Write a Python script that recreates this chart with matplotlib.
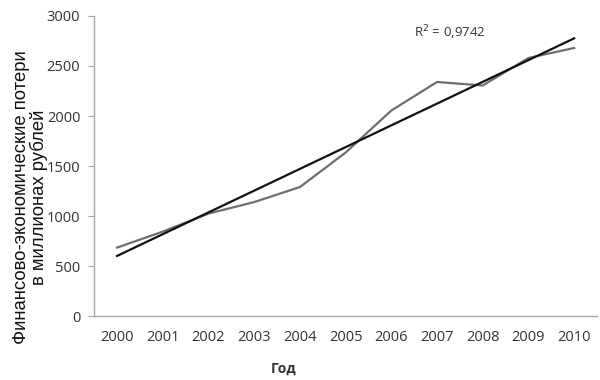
import numpy as np
import matplotlib.pyplot as plt

# data
years = [2000, 2001, 2002, 2003, 2004, 2005, 2006, 2007, 2008, 2009, 2010]
losses = [685, 845, 1025, 1140, 1290, 1635, 2055, 2340, 2305, 2580, 2680]
r2_label = 'R$^2$ = 0,9742'

x = np.arange(len(years))
coef = np.polyfit(x, losses, 1)
trend = np.polyval(coef, x)

fig = plt.figure(figsize=(6, 3.8), dpi=100)
ax = fig.add_axes([0.157, 0.168, 0.838, 0.79])

ax.plot(x, losses, color='#6e6e6e', lw=1.6)
ax.plot(x, trend, color='#111111', lw=1.6)

ax.set_xlim(-0.5, len(years) - 0.5)
ax.set_ylim(0, 3000)
ax.set_yticks(range(0, 3001, 500))
ax.set_xticks(x)
ax.set_xticklabels(years)

for s in ['top', 'right']:
	ax.spines[s].set_visible(False)
for s in ['left', 'bottom']:
	ax.spines[s].set_color('#a6a6a6')
	ax.spines[s].set_linewidth(1.0)
ax.tick_params(axis='y', length=4, color='#a6a6a6', labelsize=10.5, labelcolor='#333333', pad=6)
ax.tick_params(axis='x', length=0, labelsize=10.5, labelcolor='#333333', pad=10)
for lab in ax.get_xticklabels() + ax.get_yticklabels():
	lab.set_family('Open Sans')

ax.text(6.5, 2830, r2_label, fontsize=9.5, color='#333333', family='Open Sans', va='center')

fig.text(0.051, 0.48, 'Финансово-экономические потери\nв миллионах рублей',
	rotation=90, ha='center', va='center', fontsize=13.3, family='Liberation Sans',
	linespacing=1.0, color='#111111')
fig.text(0.472, 0.03, 'Год', ha='center', va='center', fontsize=10,
	fontweight='bold', family='Open Sans', color='#333333')

plt.savefig('out.png')
